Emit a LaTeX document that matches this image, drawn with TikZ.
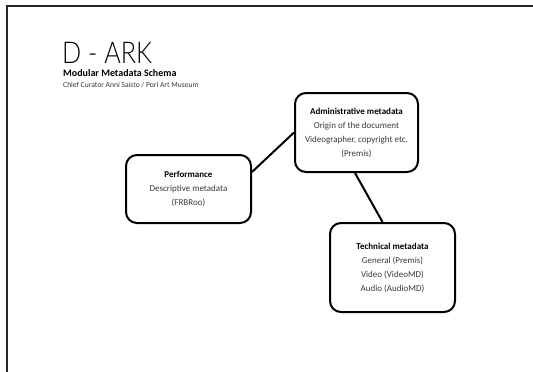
\documentclass[tikz,border=0pt]{standalone}
\usepackage{fontspec}
\setmainfont{Carlito}
\newfontfamily\headingfont{Lato Light}
\definecolor{bodytext}{HTML}{3A3A3A}
\begin{document}
\begin{tikzpicture}[x=1pt,y=-1pt,
  box/.style={draw=black, line width=2pt, rounded corners=11pt, align=center,
    inner sep=0pt, font=\fontsize{9}{14}\selectfont, text=bodytext},
  link/.style={draw=black, line width=2pt},
  frame/.style={draw=black!85, line width=2pt}]
  \useasboundingbox (0,0) rectangle (533,372);
  \fill[white] (0,0) rectangle (533,372);
  % slide frame: top and left edges
  \draw[frame] (533,5.5) -- (6.5,5.5) -- (6.5,372);
  % heading
  \node[anchor=base west, inner sep=0pt, font=\headingfont\fontsize{30}{31}\selectfont] (title) at (62,63) {\scalebox{0.84}[1]{D - ARK}};
  \node[anchor=base west, inner sep=0pt, font=\fontsize{10}{11}\selectfont\bfseries] (subtitle) at (63,76.5) {Modular Metadata Schema};
  \node[anchor=base west, inner sep=0pt, font=\fontsize{7.6}{9}\selectfont, text=bodytext] (author) at (63,87.5) {Chief Curator Anni Saisto / Pori Art Museum};
  % metadata modules
  \node[box, minimum width=125pt, minimum height=68pt] (perf) at (188.5,189)
    {\textcolor{black}{\bfseries Performance}\\Descriptive metadata\\(FRBRoo)};
  \node[box, minimum width=123pt, minimum height=79pt] (adm) at (356.5,132.5)
    {\textcolor{black}{\bfseries Administrative metadata}\\Origin of the document\\Videographer, copyright etc.\\(Premis)};
  \node[box, minimum width=125pt, minimum height=89pt] (tech) at (392.5,267.5)
    {\textcolor{black}{\bfseries Technical metadata}\\General (Premis)\\Video (VideoMD)\\Audio (AudioMD)};
  % connectors
  \draw[link] ([yshift=17pt]perf.east) -- (adm.west);
  \draw[link] ([xshift=-1.5pt]adm.south) -- ([xshift=-10pt]tech.north);
\end{tikzpicture}
\end{document}
